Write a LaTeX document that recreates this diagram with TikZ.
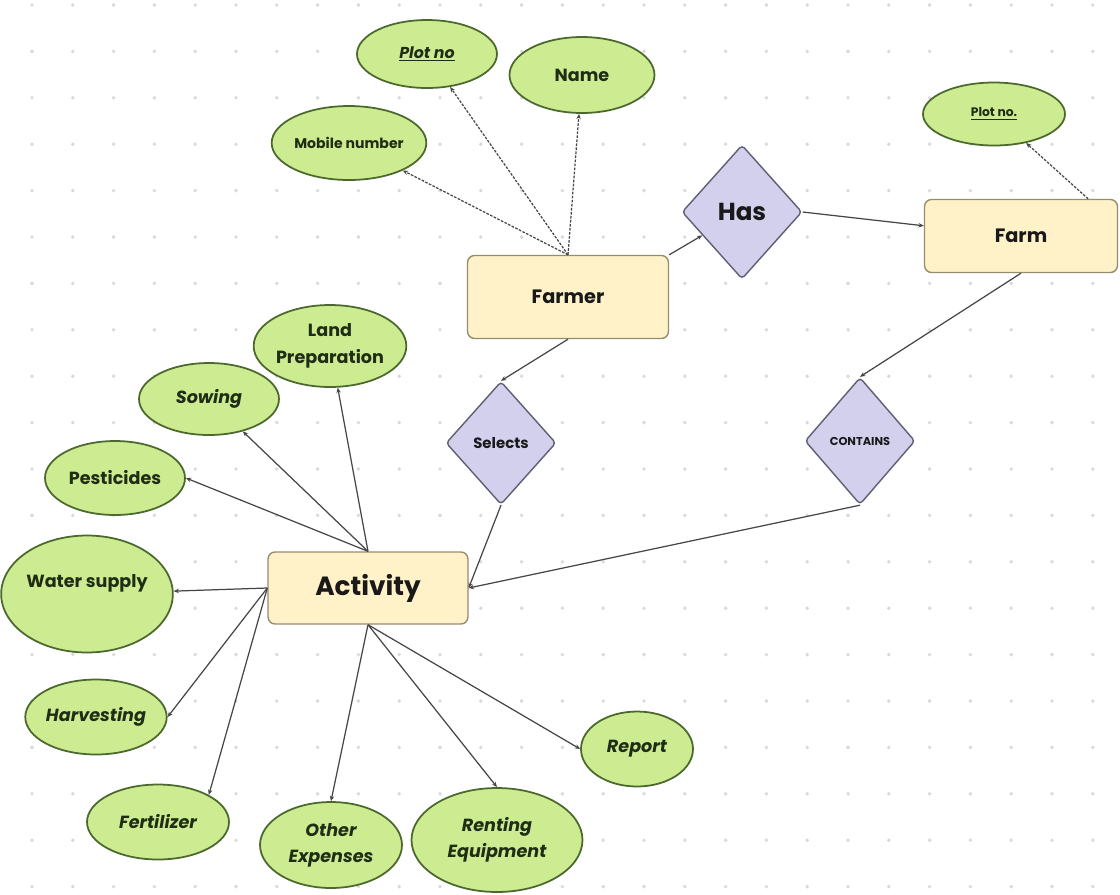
\documentclass[tikz,border=0pt]{standalone}
\usepackage{fontspec}
\setmainfont{Poppins}
\usepackage{xcolor}
\usepackage{tikz}
\usetikzlibrary{shapes.geometric, arrows.meta, calc}
\definecolor{attrgreen}{RGB}{205, 235, 145}
\definecolor{attrborder}{RGB}{75, 105, 45}
\definecolor{attrtext}{RGB}{30, 45, 20}
\definecolor{entcream}{RGB}{255, 242, 200}
\definecolor{entborder}{RGB}{150, 140, 110}
\definecolor{relviolet}{RGB}{210, 208, 236}
\definecolor{relborder}{RGB}{95, 95, 115}
\definecolor{linegrey}{RGB}{70, 70, 70}
\definecolor{dotgrey}{RGB}{218, 218, 218}
\tikzstyle{attribute} = [
    ellipse,
    inner sep=0pt,
    align=center,
    draw=attrborder,
    fill=attrgreen,
    line width=1pt,
    text=attrtext,
    font=\fontsize{10}{15}\selectfont\bfseries
]
\tikzstyle{entity} = [
    rectangle,
    rounded corners=4pt,
    draw=entborder,
    fill=entcream,
    line width=0.8pt,
    text=black!90,
    font=\fontsize{11}{13}\selectfont\bfseries
]
\tikzstyle{relation} = [
    diamond,
    aspect=1,
    inner sep=0pt,
    rounded corners=2pt,
    draw=relborder,
    fill=relviolet,
    line width=0.8pt,
    text=black!90
]
\tikzstyle{link} = [
    line width=0.7pt,
    color=linegrey,
    -{Stealth[length=3pt, width=2.5pt]}
]
\tikzstyle{keylink} = [
    link,
    dash pattern=on 1.5pt off 0.8pt
]

\begin{document}
\begin{tikzpicture}[x=0.02cm, y=-0.02cm]
        \fill[white] (0,0) rectangle (1120,894);
        \useasboundingbox (0,0) rectangle (1120,894);
        % dotted canvas
        \foreach \i in {0,...,26}
            \foreach \j in {0,...,19}
                \fill[dotgrey] ({32+40.8*\i},{5+46.4*\j}) circle (1.1pt);

        % entities and relations
        \node[entity, minimum width=4.02cm, minimum height=1.66cm] (farmer) at (568,297) {Farmer};
        \node[entity, minimum width=3.86cm, minimum height=1.46cm] (farm) at (1021,236) {Farm};
        \node[entity, minimum width=4cm, minimum height=1.44cm, font=\fontsize{15}{18}\selectfont\bfseries] (activity) at (368,588) {Activity};
        \node[relation, minimum width=2.4cm, minimum height=2.68cm, font=\fontsize{14}{16}\selectfont\bfseries] (has) at (742,212) {Has};
        \node[relation, minimum width=2.2cm, minimum height=2.46cm, font=\fontsize{8.5}{10}\selectfont\bfseries] (selects) at (501,443) {Selects};
        \node[relation, minimum width=2.2cm, minimum height=2.54cm, font=\fontsize{6.5}{8}\selectfont\bfseries] (contains) at (860,441) {CONTAINS};

        % attributes
        \node[attribute, minimum width=2.8cm, minimum height=1.36cm, font=\fontsize{9}{11}\selectfont\bfseries\itshape] (plotno) at (427,54) {\underline{Plot no}};
        \node[attribute, minimum width=2.9cm, minimum height=1.52cm] (name) at (582,75) {Name};
        \node[attribute, minimum width=2.84cm, minimum height=1.48cm, font=\fontsize{8}{10}\selectfont\bfseries] (mobile) at (349,143) {Mobile number};
        \node[attribute, minimum width=2.84cm, minimum height=1.26cm, font=\fontsize{7}{9}\selectfont\bfseries] (plotfarm) at (994,114) {\underline{Plot no.}};
        \node[attribute, minimum width=2.8cm, minimum height=1.64cm] (landprep) at (330,346) {Land\\Preparation};
        \node[attribute, minimum width=2.8cm, minimum height=1.44cm, font=\fontsize{10}{15}\selectfont\bfseries\itshape] (sowing) at (209,399) {Sowing};
        \node[attribute, minimum width=2.8cm, minimum height=1.48cm] (pesticides) at (115,478) {Pesticides};
        \node[attribute, minimum width=3.16cm, minimum height=2.34cm] (water) at (87,594) {Water supply\\\mbox{}};
        \node[attribute, minimum width=2.8cm, minimum height=1.5cm, font=\fontsize{10}{15}\selectfont\bfseries\itshape] (harvest) at (96,717) {Harvesting};
        \node[attribute, minimum width=2.84cm, minimum height=1.5cm, font=\fontsize{10}{15}\selectfont\bfseries\itshape] (fert) at (158,822) {Fertilizer};
        \node[attribute, minimum width=2.84cm, minimum height=1.72cm, font=\fontsize{10}{15}\selectfont\bfseries\itshape] (oexp) at (331,845) {Other\\Expenses};
        \node[attribute, minimum width=3.42cm, minimum height=2.08cm, font=\fontsize{10}{15}\selectfont\bfseries\itshape] (rent) at (497,840) {Renting\\Equipment};
        \node[attribute, minimum width=2.24cm, minimum height=1.5cm, font=\fontsize{10}{15}\selectfont\bfseries\itshape] (report) at (637,749) {Report};

        % key and attribute links
        \draw[keylink] (farmer.north) -- (mobile);
        \draw[keylink] (farmer.north) -- (plotno);
        \draw[keylink] (farmer.north) -- (name);
        \draw[keylink] (farm.29) -- (plotfarm);

        % relations
        \draw[link] (farmer.north east) -- (has);
        \draw[link] (has.east) -- (farm.174);
        \draw[link] (farmer.south) -- (selects.north);
        \draw[link] (selects.south) -- (activity.east);
        \draw[link] (farm.south) -- (contains.north);
        \draw[link] (contains.south) -- (activity.east);

        % activity attributes
        \draw[link] (activity.north) -- (landprep);
        \draw[link] (activity.north) -- (sowing);
        \draw[link] (activity.north) -- (pesticides.east);
        \draw[link] (activity.west) -- (water);
        \draw[link] (activity.west) -- (harvest.east);
        \draw[link] (activity.west) -- (fert.north east);
        \draw[link] (activity.south) -- (oexp.north);
        \draw[link] (activity.south) -- (rent.north);
        \draw[link] (activity.south) -- (report.west);
    \end{tikzpicture}
\end{document}
